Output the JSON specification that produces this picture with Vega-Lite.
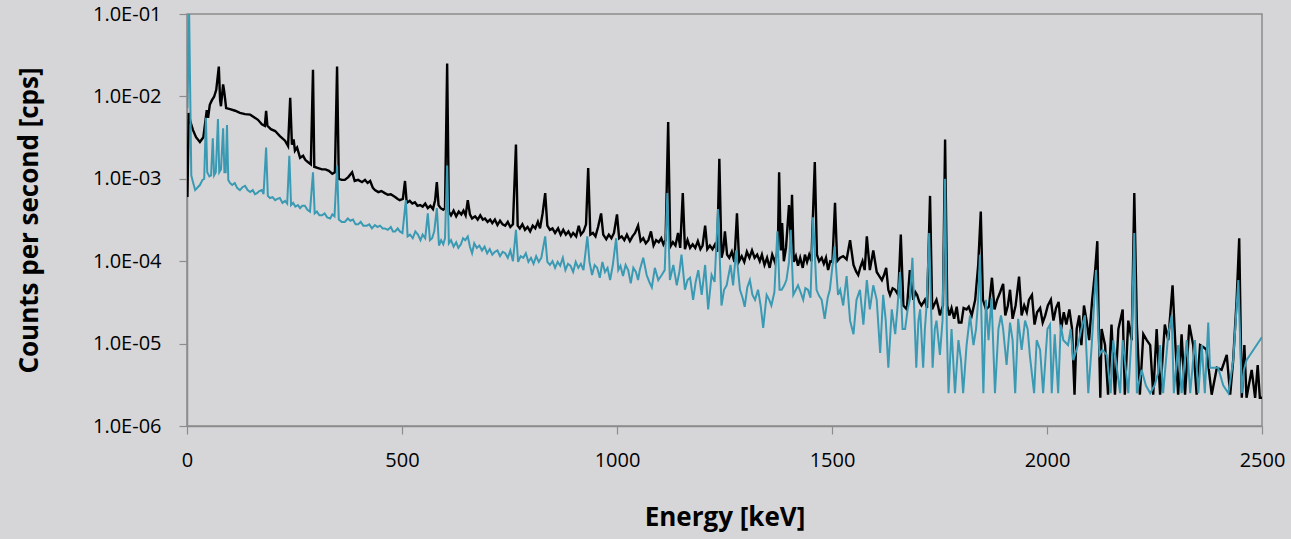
{
 "$schema": "https://vega.github.io/schema/vega-lite/v6.json",
 "width": 1075,
 "height": 412,
 "autosize": {"type": "none"},
 "padding": {"left": 187, "top": 14, "right": 29, "bottom": 113},
 "background": "#d6d6d8",
 "config": {
  "font": "Open Sans",
  "view": {"stroke": "#8c8c8c", "strokeWidth": 1.5, "fill": "#d6d6d8"},
  "axis": {
   "grid": false,
   "domainColor": "#8c8c8c",
   "domainWidth": 1.5,
   "tickColor": "#8c8c8c",
   "tickWidth": 1.2,
   "tickSize": 8,
   "labelFlush": false,
   "labelColor": "#000000",
   "labelFontSize": 20,
   "labelFont": "Open Sans",
   "titleColor": "#000000",
   "titleFontSize": 26,
   "titleFontWeight": "bold",
   "titleFont": "Open Sans"
  }
 },
 "datasets": {
  "black": [
   {"e":1,"v":6.0e-4},{"e":4,"v":6.3e-3},{"e":8,"v":4.9e-3},{"e":14,"v":3.9e-3},{"e":21,"v":3.2e-3},{"e":30,"v":2.8e-3},{"e":38,"v":3.2e-3},{"e":46,"v":6.8e-3},{"e":49,"v":5.5e-3},{"e":53,"v":7.9e-3},{"e":58,"v":9.0e-3},{"e":63,"v":9.9e-3},{"e":68,"v":1.2e-2},{"e":74,"v":2.3e-2},{"e":77,"v":9.0e-3},{"e":79,"v":7.6e-3},{"e":84,"v":1.4e-2},{"e":86,"v":1.2e-2},{"e":88,"v":9.9e-3},{"e":91,"v":7.2e-3},{"e":100,"v":7.0e-3},{"e":112,"v":6.7e-3},{"e":123,"v":6.3e-3},{"e":135,"v":6.1e-3},{"e":147,"v":6.0e-3},{"e":156,"v":5.6e-3},{"e":165,"v":5.2e-3},{"e":174,"v":4.6e-3},{"e":181,"v":4.4e-3},{"e":184,"v":6.7e-3},{"e":187,"v":4.4e-3},{"e":195,"v":4.0e-3},{"e":205,"v":3.8e-3},{"e":216,"v":3.3e-3},{"e":228,"v":2.9e-3},{"e":235,"v":2.5e-3},{"e":240,"v":9.6e-3},{"e":244,"v":2.6e-3},{"e":248,"v":3.0e-3},{"e":251,"v":2.2e-3},{"e":256,"v":2.4e-3},{"e":263,"v":1.8e-3},{"e":270,"v":1.9e-3},{"e":275,"v":1.7e-3},{"e":281,"v":1.6e-3},{"e":288,"v":1.5e-3},{"e":293,"v":2.1e-2},{"e":296,"v":1.4e-3},{"e":305,"v":1.35e-3},{"e":314,"v":1.3e-3},{"e":322,"v":1.3e-3},{"e":330,"v":1.25e-3},{"e":338,"v":1.15e-3},{"e":344,"v":1.2e-3},{"e":349,"v":2.3e-2},{"e":353,"v":1.0e-3},{"e":360,"v":9.7e-4},{"e":367,"v":9.7e-4},{"e":375,"v":1.05e-3},{"e":384,"v":1.2e-3},{"e":390,"v":9.4e-4},{"e":398,"v":9.7e-4},{"e":407,"v":9.1e-4},{"e":414,"v":9.7e-4},{"e":420,"v":8.9e-4},{"e":426,"v":9.4e-4},{"e":432,"v":7.8e-4},{"e":437,"v":7.3e-4},{"e":445,"v":6.9e-4},{"e":452,"v":7.1e-4},{"e":460,"v":6.7e-4},{"e":467,"v":6.4e-4},{"e":474,"v":6.5e-4},{"e":484,"v":6.0e-4},{"e":490,"v":5.7e-4},{"e":495,"v":5.5e-4},{"e":502,"v":5.7e-4},{"e":507,"v":9.4e-4},{"e":511,"v":5.1e-4},{"e":518,"v":5.4e-4},{"e":524,"v":5.0e-4},{"e":530,"v":5.2e-4},{"e":536,"v":4.7e-4},{"e":542,"v":4.8e-4},{"e":548,"v":4.6e-4},{"e":554,"v":5.0e-4},{"e":560,"v":4.4e-4},{"e":566,"v":4.7e-4},{"e":572,"v":4.3e-4},{"e":577,"v":5.5e-4},{"e":581,"v":9.1e-4},{"e":585,"v":4.8e-4},{"e":590,"v":4.4e-4},{"e":596,"v":4.2e-4},{"e":600,"v":4.4e-4},{"e":605,"v":2.5e-2},{"e":609,"v":4.0e-4},{"e":614,"v":3.6e-4},{"e":620,"v":4.1e-4},{"e":626,"v":3.5e-4},{"e":632,"v":4.0e-4},{"e":638,"v":3.7e-4},{"e":643,"v":4.1e-4},{"e":648,"v":3.6e-4},{"e":653,"v":5.5e-4},{"e":658,"v":3.7e-4},{"e":663,"v":3.3e-4},{"e":670,"v":3.5e-4},{"e":676,"v":3.2e-4},{"e":682,"v":3.6e-4},{"e":688,"v":3.2e-4},{"e":693,"v":3.3e-4},{"e":699,"v":3.0e-4},{"e":705,"v":3.2e-4},{"e":710,"v":2.9e-4},{"e":716,"v":3.2e-4},{"e":722,"v":2.75e-4},{"e":728,"v":3.1e-4},{"e":734,"v":2.8e-4},{"e":740,"v":2.7e-4},{"e":746,"v":3.0e-4},{"e":752,"v":2.6e-4},{"e":758,"v":2.8e-4},{"e":765,"v":2.6e-3},{"e":769,"v":2.7e-4},{"e":774,"v":2.5e-4},{"e":780,"v":2.8e-4},{"e":786,"v":2.4e-4},{"e":792,"v":2.6e-4},{"e":798,"v":2.3e-4},{"e":804,"v":2.7e-4},{"e":810,"v":2.5e-4},{"e":816,"v":3.0e-4},{"e":821,"v":2.5e-4},{"e":827,"v":3.8e-4},{"e":833,"v":6.7e-4},{"e":838,"v":2.7e-4},{"e":844,"v":2.4e-4},{"e":850,"v":2.5e-4},{"e":856,"v":2.2e-4},{"e":863,"v":2.5e-4},{"e":869,"v":2.1e-4},{"e":875,"v":2.4e-4},{"e":881,"v":2.1e-4},{"e":887,"v":2.3e-4},{"e":893,"v":2.0e-4},{"e":898,"v":2.2e-4},{"e":905,"v":2.0e-4},{"e":911,"v":2.7e-4},{"e":916,"v":2.1e-4},{"e":922,"v":2.3e-4},{"e":928,"v":2.8e-4},{"e":933,"v":1.35e-3},{"e":938,"v":2.1e-4},{"e":944,"v":2.2e-4},{"e":950,"v":2.0e-4},{"e":956,"v":2.6e-4},{"e":963,"v":3.8e-4},{"e":968,"v":2.1e-4},{"e":975,"v":1.85e-4},{"e":981,"v":2.1e-4},{"e":987,"v":1.9e-4},{"e":993,"v":2.2e-4},{"e":1000,"v":3.7e-4},{"e":1005,"v":1.9e-4},{"e":1011,"v":2.0e-4},{"e":1017,"v":1.8e-4},{"e":1023,"v":2.1e-4},{"e":1030,"v":1.75e-4},{"e":1036,"v":2.0e-4},{"e":1042,"v":2.2e-4},{"e":1049,"v":2.7e-4},{"e":1055,"v":1.75e-4},{"e":1061,"v":1.9e-4},{"e":1067,"v":1.65e-4},{"e":1073,"v":1.8e-4},{"e":1079,"v":2.3e-4},{"e":1085,"v":1.55e-4},{"e":1091,"v":1.8e-4},{"e":1097,"v":1.7e-4},{"e":1103,"v":1.9e-4},{"e":1108,"v":1.6e-4},{"e":1113,"v":1.8e-4},{"e":1119,"v":4.9e-3},{"e":1124,"v":1.5e-4},{"e":1130,"v":1.7e-4},{"e":1136,"v":1.55e-4},{"e":1142,"v":2.2e-4},{"e":1147,"v":1.45e-4},{"e":1153,"v":6.7e-4},{"e":1158,"v":1.4e-4},{"e":1164,"v":1.8e-4},{"e":1170,"v":1.45e-4},{"e":1176,"v":1.6e-4},{"e":1182,"v":1.45e-4},{"e":1188,"v":1.75e-4},{"e":1194,"v":1.4e-4},{"e":1199,"v":1.55e-4},{"e":1205,"v":2.7e-4},{"e":1210,"v":1.4e-4},{"e":1216,"v":1.55e-4},{"e":1222,"v":1.4e-4},{"e":1228,"v":1.6e-4},{"e":1233,"v":1.3e-4},{"e":1238,"v":1.75e-3},{"e":1243,"v":1.1e-4},{"e":1247,"v":1.35e-4},{"e":1251,"v":2.3e-4},{"e":1256,"v":1.2e-4},{"e":1261,"v":1.1e-4},{"e":1267,"v":1.3e-4},{"e":1273,"v":9.8e-5},{"e":1279,"v":3.8e-4},{"e":1284,"v":1.0e-4},{"e":1290,"v":1.15e-4},{"e":1296,"v":9.8e-5},{"e":1302,"v":1.3e-4},{"e":1308,"v":1.1e-4},{"e":1314,"v":1.35e-4},{"e":1320,"v":1.1e-4},{"e":1326,"v":1.2e-4},{"e":1332,"v":1.0e-4},{"e":1337,"v":1.2e-4},{"e":1343,"v":9.0e-5},{"e":1349,"v":1.1e-4},{"e":1355,"v":8.3e-5},{"e":1361,"v":1.2e-4},{"e":1367,"v":9.8e-5},{"e":1374,"v":1.35e-4},{"e":1377,"v":1.2e-3},{"e":1381,"v":1.35e-4},{"e":1384,"v":2.9e-4},{"e":1388,"v":1.0e-4},{"e":1393,"v":1.45e-4},{"e":1400,"v":4.8e-4},{"e":1404,"v":1.8e-4},{"e":1407,"v":6.4e-4},{"e":1411,"v":9.8e-5},{"e":1416,"v":1.15e-4},{"e":1421,"v":8.8e-5},{"e":1426,"v":1.1e-4},{"e":1432,"v":8.3e-5},{"e":1437,"v":1.2e-4},{"e":1442,"v":9.8e-5},{"e":1447,"v":1.2e-4},{"e":1452,"v":1.0e-4},{"e":1460,"v":1.6e-3},{"e":1465,"v":1.2e-4},{"e":1470,"v":1.0e-4},{"e":1476,"v":1.1e-4},{"e":1481,"v":9.3e-5},{"e":1486,"v":1.1e-4},{"e":1491,"v":7.8e-5},{"e":1496,"v":1.0e-4},{"e":1501,"v":9.8e-5},{"e":1507,"v":5.1e-4},{"e":1512,"v":1.0e-4},{"e":1519,"v":1.1e-4},{"e":1526,"v":1.15e-4},{"e":1534,"v":1.05e-4},{"e":1542,"v":1.8e-4},{"e":1550,"v":9.0e-5},{"e":1556,"v":7.5e-5},{"e":1561,"v":6.8e-5},{"e":1566,"v":8.5e-5},{"e":1571,"v":1.0e-4},{"e":1576,"v":7.8e-5},{"e":1581,"v":2.0e-4},{"e":1588,"v":7.8e-5},{"e":1596,"v":1.35e-4},{"e":1604,"v":7.4e-5},{"e":1610,"v":6.6e-5},{"e":1616,"v":5.9e-5},{"e":1621,"v":6.8e-5},{"e":1626,"v":8.3e-5},{"e":1631,"v":4.5e-5},{"e":1635,"v":3.9e-5},{"e":1641,"v":4.7e-5},{"e":1647,"v":4.5e-5},{"e":1654,"v":3.9e-5},{"e":1660,"v":2.1e-4},{"e":1666,"v":2.9e-5},{"e":1674,"v":2.6e-5},{"e":1681,"v":7.8e-5},{"e":1689,"v":3.4e-5},{"e":1694,"v":4.2e-5},{"e":1698,"v":3.9e-5},{"e":1703,"v":3.2e-5},{"e":1708,"v":2.9e-5},{"e":1716,"v":3.4e-5},{"e":1721,"v":2.7e-5},{"e":1728,"v":6.2e-4},{"e":1733,"v":2.6e-5},{"e":1738,"v":3.0e-5},{"e":1743,"v":3.4e-5},{"e":1747,"v":2.8e-5},{"e":1751,"v":2.2e-5},{"e":1758,"v":2.9e-5},{"e":1763,"v":3.0e-3},{"e":1768,"v":2.9e-5},{"e":1773,"v":2.2e-5},{"e":1778,"v":2.7e-5},{"e":1784,"v":2.0e-5},{"e":1790,"v":2.8e-5},{"e":1795,"v":1.8e-5},{"e":1801,"v":1.8e-5},{"e":1806,"v":2.7e-5},{"e":1813,"v":2.6e-5},{"e":1818,"v":2.8e-5},{"e":1825,"v":2.2e-5},{"e":1833,"v":3.4e-5},{"e":1840,"v":9.0e-5},{"e":1846,"v":4.0e-4},{"e":1851,"v":3.4e-5},{"e":1858,"v":2.6e-5},{"e":1865,"v":2.8e-5},{"e":1872,"v":6.3e-5},{"e":1878,"v":2.6e-5},{"e":1884,"v":3.4e-5},{"e":1891,"v":4.2e-5},{"e":1898,"v":5.3e-5},{"e":1903,"v":2.2e-5},{"e":1909,"v":2.9e-5},{"e":1914,"v":4.5e-5},{"e":1920,"v":2.0e-5},{"e":1927,"v":2.9e-5},{"e":1935,"v":6.5e-5},{"e":1941,"v":2.2e-5},{"e":1947,"v":2.9e-5},{"e":1953,"v":2.4e-5},{"e":1958,"v":3.4e-5},{"e":1965,"v":3.9e-5},{"e":1971,"v":1.7e-5},{"e":1977,"v":2.4e-5},{"e":1984,"v":2.7e-5},{"e":1990,"v":1.8e-5},{"e":1996,"v":2.2e-5},{"e":2002,"v":2.9e-5},{"e":2009,"v":3.4e-5},{"e":2015,"v":1.9e-5},{"e":2021,"v":2.7e-5},{"e":2027,"v":3.2e-5},{"e":2033,"v":1.5e-5},{"e":2039,"v":2.4e-5},{"e":2045,"v":1.7e-5},{"e":2052,"v":2.6e-5},{"e":2058,"v":1.55e-5},{"e":2064,"v":2.4e-6},{"e":2069,"v":1.5e-5},{"e":2075,"v":2.2e-5},{"e":2080,"v":9.6e-6},{"e":2086,"v":2.9e-5},{"e":2092,"v":1.9e-5},{"e":2098,"v":1.1e-5},{"e":2105,"v":3.4e-5},{"e":2112,"v":7.8e-5},{"e":2117,"v":1.75e-4},{"e":2121,"v":1.1e-5},{"e":2124,"v":2.2e-6},{"e":2127,"v":1.5e-5},{"e":2135,"v":9.6e-6},{"e":2142,"v":2.4e-6},{"e":2150,"v":1.7e-5},{"e":2158,"v":2.4e-6},{"e":2166,"v":1.5e-5},{"e":2176,"v":2.6e-5},{"e":2181,"v":2.4e-6},{"e":2189,"v":1.9e-5},{"e":2197,"v":1.1e-5},{"e":2203,"v":6.7e-4},{"e":2209,"v":1.7e-5},{"e":2216,"v":2.4e-6},{"e":2224,"v":1.3e-5},{"e":2232,"v":1.1e-5},{"e":2240,"v":9.6e-6},{"e":2247,"v":2.4e-6},{"e":2255,"v":1.5e-5},{"e":2263,"v":2.4e-6},{"e":2274,"v":1.7e-5},{"e":2282,"v":1.1e-5},{"e":2292,"v":5.1e-5},{"e":2298,"v":1.1e-5},{"e":2305,"v":2.4e-6},{"e":2313,"v":1.3e-5},{"e":2321,"v":2.4e-6},{"e":2331,"v":1.7e-5},{"e":2340,"v":9.6e-6},{"e":2348,"v":2.4e-6},{"e":2356,"v":9.6e-6},{"e":2365,"v":9.0e-6},{"e":2371,"v":8.4e-6},{"e":2383,"v":2.4e-6},{"e":2395,"v":5.1e-6},{"e":2406,"v":4.8e-6},{"e":2418,"v":7.3e-6},{"e":2426,"v":2.4e-6},{"e":2433,"v":6.3e-6},{"e":2441,"v":3.4e-5},{"e":2447,"v":1.9e-4},{"e":2453,"v":2.2e-6},{"e":2459,"v":9.6e-6},{"e":2464,"v":2.2e-6},{"e":2476,"v":4.8e-6},{"e":2484,"v":2.2e-6},{"e":2490,"v":5.5e-6},{"e":2495,"v":2.2e-6},{"e":2500,"v":2.2e-6}
  ],
  "teal": [
   {"e":1,"v":7.2e-3},{"e":5,"v":1.0e-1},{"e":10,"v":1.1e-3},{"e":14,"v":9.1e-4},{"e":19,"v":7.3e-4},{"e":25,"v":7.9e-4},{"e":30,"v":8.4e-4},{"e":36,"v":9.7e-4},{"e":40,"v":1.0e-3},{"e":44,"v":5.5e-3},{"e":47,"v":1.2e-3},{"e":52,"v":1.07e-3},{"e":56,"v":1.1e-3},{"e":60,"v":3.1e-3},{"e":63,"v":1.1e-3},{"e":67,"v":1.2e-3},{"e":72,"v":5.3e-3},{"e":75,"v":1.2e-3},{"e":79,"v":1.3e-3},{"e":84,"v":4.1e-3},{"e":87,"v":1.2e-3},{"e":90,"v":1.2e-3},{"e":93,"v":4.5e-3},{"e":96,"v":9.7e-4},{"e":100,"v":8.9e-4},{"e":105,"v":8.4e-4},{"e":111,"v":8.9e-4},{"e":117,"v":7.7e-4},{"e":123,"v":7.3e-4},{"e":129,"v":7.9e-4},{"e":135,"v":8.2e-4},{"e":141,"v":7.3e-4},{"e":147,"v":6.9e-4},{"e":153,"v":7.3e-4},{"e":158,"v":6.5e-4},{"e":163,"v":6.7e-4},{"e":168,"v":7.1e-4},{"e":174,"v":7.3e-4},{"e":178,"v":6.5e-4},{"e":184,"v":2.4e-3},{"e":188,"v":6.2e-4},{"e":193,"v":5.85e-4},{"e":199,"v":6.0e-4},{"e":205,"v":5.5e-4},{"e":210,"v":5.7e-4},{"e":216,"v":5.85e-4},{"e":222,"v":5.1e-4},{"e":228,"v":5.4e-4},{"e":233,"v":5.0e-4},{"e":238,"v":1.9e-3},{"e":242,"v":4.8e-4},{"e":247,"v":5.1e-4},{"e":252,"v":4.6e-4},{"e":258,"v":4.8e-4},{"e":263,"v":4.4e-4},{"e":268,"v":4.7e-4},{"e":274,"v":4.7e-4},{"e":280,"v":4.2e-4},{"e":286,"v":4.0e-4},{"e":293,"v":1.2e-3},{"e":297,"v":3.8e-4},{"e":302,"v":4.0e-4},{"e":308,"v":3.6e-4},{"e":314,"v":3.6e-4},{"e":320,"v":3.8e-4},{"e":326,"v":3.4e-4},{"e":333,"v":3.3e-4},{"e":338,"v":3.7e-4},{"e":343,"v":3.5e-4},{"e":349,"v":1.45e-3},{"e":353,"v":3.2e-4},{"e":360,"v":3.0e-4},{"e":367,"v":3.0e-4},{"e":374,"v":3.3e-4},{"e":380,"v":3.1e-4},{"e":386,"v":3.2e-4},{"e":392,"v":2.8e-4},{"e":398,"v":2.8e-4},{"e":404,"v":3.0e-4},{"e":410,"v":2.7e-4},{"e":418,"v":2.7e-4},{"e":424,"v":2.8e-4},{"e":430,"v":2.5e-4},{"e":437,"v":2.75e-4},{"e":443,"v":2.6e-4},{"e":449,"v":2.7e-4},{"e":455,"v":2.5e-4},{"e":460,"v":2.5e-4},{"e":467,"v":2.4e-4},{"e":474,"v":2.6e-4},{"e":479,"v":2.3e-4},{"e":484,"v":2.3e-4},{"e":490,"v":2.5e-4},{"e":495,"v":2.3e-4},{"e":501,"v":2.2e-4},{"e":509,"v":5.5e-4},{"e":513,"v":2.0e-4},{"e":519,"v":2.1e-4},{"e":525,"v":1.9e-4},{"e":531,"v":2.3e-4},{"e":537,"v":2.1e-4},{"e":543,"v":1.8e-4},{"e":548,"v":2.1e-4},{"e":554,"v":1.9e-4},{"e":560,"v":3.8e-4},{"e":565,"v":1.8e-4},{"e":570,"v":1.9e-4},{"e":575,"v":2.3e-4},{"e":581,"v":4.4e-4},{"e":586,"v":1.55e-4},{"e":591,"v":1.8e-4},{"e":596,"v":1.6e-4},{"e":600,"v":1.9e-4},{"e":605,"v":1.45e-3},{"e":609,"v":1.65e-4},{"e":614,"v":1.8e-4},{"e":620,"v":1.5e-4},{"e":626,"v":1.7e-4},{"e":631,"v":1.45e-4},{"e":637,"v":1.6e-4},{"e":642,"v":1.9e-4},{"e":647,"v":1.8e-4},{"e":653,"v":2.0e-4},{"e":658,"v":1.5e-4},{"e":663,"v":1.25e-4},{"e":668,"v":1.65e-4},{"e":674,"v":1.45e-4},{"e":680,"v":1.55e-4},{"e":686,"v":1.35e-4},{"e":692,"v":1.5e-4},{"e":698,"v":1.25e-4},{"e":704,"v":1.4e-4},{"e":710,"v":1.2e-4},{"e":716,"v":1.3e-4},{"e":722,"v":1.35e-4},{"e":728,"v":1.15e-4},{"e":734,"v":1.3e-4},{"e":740,"v":1.25e-4},{"e":746,"v":1.1e-4},{"e":752,"v":1.35e-4},{"e":758,"v":1.0e-4},{"e":765,"v":2.4e-4},{"e":770,"v":9.8e-5},{"e":776,"v":1.15e-4},{"e":782,"v":1.1e-4},{"e":788,"v":1.25e-4},{"e":794,"v":9.8e-5},{"e":800,"v":1.1e-4},{"e":806,"v":9.3e-5},{"e":812,"v":1.15e-4},{"e":818,"v":9.8e-5},{"e":824,"v":1.1e-4},{"e":833,"v":2.0e-4},{"e":838,"v":9.8e-5},{"e":844,"v":9.0e-5},{"e":850,"v":1.0e-4},{"e":856,"v":8.3e-5},{"e":862,"v":9.8e-5},{"e":868,"v":8.8e-5},{"e":874,"v":1.1e-4},{"e":880,"v":7.8e-5},{"e":886,"v":9.3e-5},{"e":892,"v":8.8e-5},{"e":898,"v":7.4e-5},{"e":904,"v":9.8e-5},{"e":910,"v":8.3e-5},{"e":916,"v":9.3e-5},{"e":922,"v":7.8e-5},{"e":931,"v":2.0e-4},{"e":936,"v":9.8e-5},{"e":942,"v":6.8e-5},{"e":948,"v":9.0e-5},{"e":954,"v":8.3e-5},{"e":960,"v":6.3e-5},{"e":966,"v":9.8e-5},{"e":972,"v":7.4e-5},{"e":978,"v":8.3e-5},{"e":984,"v":5.9e-5},{"e":990,"v":8.8e-5},{"e":998,"v":1.9e-4},{"e":1003,"v":7.8e-5},{"e":1008,"v":8.8e-5},{"e":1014,"v":6.6e-5},{"e":1020,"v":9.0e-5},{"e":1026,"v":7.8e-5},{"e":1032,"v":5.4e-5},{"e":1038,"v":8.3e-5},{"e":1044,"v":7.4e-5},{"e":1049,"v":5.9e-5},{"e":1053,"v":7.8e-5},{"e":1061,"v":1.1e-4},{"e":1069,"v":6.8e-5},{"e":1075,"v":5.6e-5},{"e":1081,"v":4.8e-5},{"e":1088,"v":8.3e-5},{"e":1096,"v":5.9e-5},{"e":1104,"v":6.8e-5},{"e":1111,"v":7.8e-5},{"e":1117,"v":6.7e-4},{"e":1123,"v":5.9e-5},{"e":1131,"v":9.0e-5},{"e":1139,"v":5.1e-5},{"e":1145,"v":7.4e-5},{"e":1150,"v":1.2e-4},{"e":1158,"v":4.5e-5},{"e":1164,"v":5.9e-5},{"e":1170,"v":6.3e-5},{"e":1177,"v":3.4e-5},{"e":1183,"v":5.6e-5},{"e":1189,"v":7.8e-5},{"e":1197,"v":3.9e-5},{"e":1205,"v":9.0e-5},{"e":1212,"v":2.6e-5},{"e":1220,"v":6.8e-5},{"e":1227,"v":5.6e-5},{"e":1235,"v":4.3e-4},{"e":1243,"v":2.9e-5},{"e":1249,"v":4.5e-5},{"e":1255,"v":5.1e-5},{"e":1264,"v":9.0e-5},{"e":1270,"v":5.1e-5},{"e":1277,"v":1.35e-4},{"e":1286,"v":4.5e-5},{"e":1292,"v":3.6e-5},{"e":1297,"v":2.8e-5},{"e":1303,"v":4.8e-5},{"e":1309,"v":5.9e-5},{"e":1315,"v":3.9e-5},{"e":1321,"v":3.4e-5},{"e":1328,"v":4.5e-5},{"e":1334,"v":2.9e-5},{"e":1340,"v":1.55e-5},{"e":1348,"v":3.9e-5},{"e":1354,"v":3.4e-5},{"e":1359,"v":2.9e-5},{"e":1366,"v":4.2e-5},{"e":1373,"v":2.3e-4},{"e":1378,"v":4.5e-5},{"e":1383,"v":4.5e-5},{"e":1389,"v":5.1e-5},{"e":1394,"v":5.9e-5},{"e":1400,"v":9.8e-5},{"e":1404,"v":2.4e-4},{"e":1410,"v":3.9e-5},{"e":1416,"v":4.5e-5},{"e":1421,"v":5.1e-5},{"e":1427,"v":4.2e-5},{"e":1433,"v":3.4e-5},{"e":1438,"v":4.7e-5},{"e":1444,"v":4.5e-5},{"e":1450,"v":3.6e-5},{"e":1456,"v":3.4e-4},{"e":1464,"v":4.5e-5},{"e":1470,"v":3.8e-5},{"e":1476,"v":3.4e-5},{"e":1483,"v":2.0e-5},{"e":1490,"v":3.6e-5},{"e":1495,"v":4.5e-5},{"e":1506,"v":1.5e-4},{"e":1514,"v":3.9e-5},{"e":1519,"v":4.5e-5},{"e":1526,"v":2.9e-5},{"e":1534,"v":6.6e-5},{"e":1542,"v":1.9e-5},{"e":1550,"v":1.3e-5},{"e":1557,"v":3.4e-5},{"e":1565,"v":4.5e-5},{"e":1573,"v":1.7e-5},{"e":1581,"v":5.9e-5},{"e":1588,"v":2.6e-5},{"e":1596,"v":5.1e-5},{"e":1604,"v":3.4e-5},{"e":1612,"v":7.7e-6},{"e":1619,"v":3.9e-5},{"e":1625,"v":1.9e-5},{"e":1631,"v":5.1e-6},{"e":1639,"v":2.6e-5},{"e":1647,"v":1.3e-5},{"e":1652,"v":2.6e-5},{"e":1658,"v":7.4e-5},{"e":1664,"v":1.5e-5},{"e":1670,"v":1.5e-5},{"e":1676,"v":2.6e-5},{"e":1681,"v":3.4e-5},{"e":1687,"v":1.1e-4},{"e":1696,"v":5.1e-6},{"e":1701,"v":1.9e-5},{"e":1705,"v":2.6e-5},{"e":1712,"v":5.1e-6},{"e":1716,"v":1.5e-5},{"e":1720,"v":2.9e-5},{"e":1726,"v":2.2e-4},{"e":1734,"v":5.1e-6},{"e":1739,"v":1.5e-5},{"e":1743,"v":1.9e-5},{"e":1751,"v":7.3e-6},{"e":1757,"v":1.9e-5},{"e":1763,"v":1.0e-3},{"e":1767,"v":1.5e-5},{"e":1771,"v":2.5e-6},{"e":1778,"v":1.5e-5},{"e":1786,"v":2.5e-6},{"e":1794,"v":1.1e-5},{"e":1800,"v":6.3e-6},{"e":1805,"v":2.5e-6},{"e":1813,"v":9.6e-6},{"e":1821,"v":2.2e-5},{"e":1829,"v":9.6e-6},{"e":1835,"v":1.5e-5},{"e":1840,"v":3.4e-5},{"e":1844,"v":1.2e-4},{"e":1852,"v":2.5e-6},{"e":1858,"v":3.4e-5},{"e":1864,"v":1.1e-5},{"e":1871,"v":3.6e-5},{"e":1879,"v":2.5e-6},{"e":1887,"v":1.5e-5},{"e":1893,"v":2.2e-5},{"e":1898,"v":1.5e-5},{"e":1906,"v":5.5e-6},{"e":1914,"v":1.8e-5},{"e":1920,"v":1.1e-5},{"e":1926,"v":2.5e-6},{"e":1933,"v":2.0e-5},{"e":1941,"v":8.4e-6},{"e":1949,"v":1.9e-5},{"e":1955,"v":1.5e-5},{"e":1960,"v":7.3e-6},{"e":1970,"v":2.5e-6},{"e":1976,"v":1.1e-5},{"e":1984,"v":8.4e-6},{"e":1991,"v":2.5e-6},{"e":2001,"v":1.5e-5},{"e":2007,"v":1.7e-5},{"e":2011,"v":2.5e-6},{"e":2018,"v":1.3e-5},{"e":2026,"v":2.5e-6},{"e":2032,"v":1.7e-5},{"e":2038,"v":1.1e-5},{"e":2049,"v":9.6e-6},{"e":2055,"v":1.5e-5},{"e":2061,"v":6.3e-6},{"e":2072,"v":9.6e-6},{"e":2080,"v":1.5e-5},{"e":2088,"v":2.2e-5},{"e":2096,"v":2.5e-6},{"e":2104,"v":9.6e-6},{"e":2114,"v":7.8e-5},{"e":2122,"v":7.3e-6},{"e":2129,"v":8.4e-6},{"e":2139,"v":7.3e-6},{"e":2148,"v":2.5e-6},{"e":2154,"v":1.1e-5},{"e":2170,"v":2.5e-6},{"e":2176,"v":1.1e-5},{"e":2189,"v":2.5e-6},{"e":2197,"v":1.3e-5},{"e":2203,"v":2.2e-4},{"e":2209,"v":2.5e-6},{"e":2220,"v":4.8e-6},{"e":2230,"v":3.1e-6},{"e":2240,"v":2.5e-6},{"e":2250,"v":3.1e-6},{"e":2259,"v":4.5e-6},{"e":2263,"v":9.6e-6},{"e":2270,"v":2.5e-6},{"e":2282,"v":1.3e-5},{"e":2290,"v":2.2e-5},{"e":2295,"v":2.5e-6},{"e":2305,"v":9.6e-6},{"e":2313,"v":2.5e-6},{"e":2325,"v":1.1e-5},{"e":2333,"v":2.5e-6},{"e":2344,"v":1.1e-5},{"e":2352,"v":2.5e-6},{"e":2360,"v":9.6e-6},{"e":2367,"v":2.5e-6},{"e":2375,"v":1.8e-5},{"e":2379,"v":5.1e-6},{"e":2398,"v":5.1e-6},{"e":2410,"v":3.1e-6},{"e":2422,"v":2.5e-6},{"e":2433,"v":6.3e-6},{"e":2445,"v":5.9e-5},{"e":2453,"v":2.5e-6},{"e":2458,"v":4.8e-6},{"e":2464,"v":6.3e-6},{"e":2500,"v":1.2e-5}
  ]
 },
 "layer": [
  {
   "data": {"name": "black"},
   "mark": {"type": "line", "color": "#000000", "strokeWidth": 2.4, "clip": true},
   "encoding": {
    "x": {
     "field": "e", "type": "quantitative",
     "scale": {"domain": [0, 2500], "nice": false, "zero": false},
     "axis": {"values": [0, 500, 1000, 1500, 2000, 2500], "format": "d", "labelPadding": 16, "titlePadding": 34, "title": "Energy [keV]"}
    },
    "y": {
     "field": "v", "type": "quantitative",
     "scale": {"type": "log", "domain": [1e-6, 0.1], "nice": false},
     "axis": {
      "values": [1e-6, 1e-5, 1e-4, 1e-3, 1e-2, 1e-1],
      "labelExpr": "'1.0E-0' + round(-log(datum.value)/LN10)",
      "labelPadding": 18,
      "titlePadding": 50,
      "title": "Counts per second [cps]"
     }
    }
   }
  },
  {
   "data": {"name": "teal"},
   "mark": {"type": "line", "color": "#3a9ab3", "strokeWidth": 2, "clip": true},
   "encoding": {
    "x": {"field": "e", "type": "quantitative"},
    "y": {"field": "v", "type": "quantitative"}
   }
  }
 ]
}
